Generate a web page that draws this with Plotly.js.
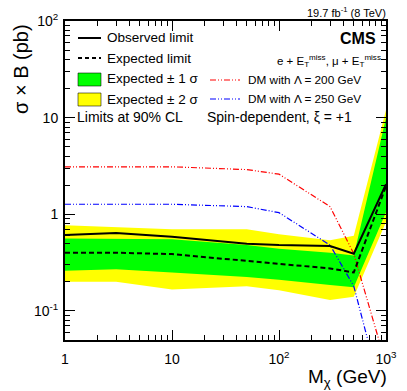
<!DOCTYPE html>
<html>
<head>
<meta charset="utf-8">
<script src="https://cdn.plot.ly/plotly-3.0.1.min.js"></script>
<style>
html,body{margin:0;padding:0;background:#fff;}
#chart{width:407px;height:391px;}
</style>
</head>
<body>
<div id="chart"></div>
<script>
// ---- data ----
const mass        = [1, 3, 10, 50, 100, 300, 500, 1000];
const observed    = [0.61, 0.64, 0.585, 0.495, 0.48, 0.47, 0.39, 2.05];
const expected    = [0.40, 0.40, 0.387, 0.33, 0.31, 0.275, 0.25, 1.95];
const sigma1Up    = [0.56, 0.56, 0.55, 0.48, 0.44, 0.40, 0.375, 9.9];
const sigma1Down  = [0.26, 0.27, 0.25, 0.225, 0.21, 0.185, 0.176, 1.05];
const sigma2Up    = [0.77, 0.73, 0.70, 0.70, 0.62, 0.54, 0.60, 12];
const sigma2Down  = [0.20, 0.20, 0.167, 0.18, 0.164, 0.13, 0.14, 0.83];
const dm200       = [3.1, 3.1, 3.1, 2.9, 2.6, 1.2, 0.39, 0.028];
const dm250       = [1.27, 1.27, 1.27, 1.2, 1.04, 0.48, 0.18, 0.0095];
const xTickVals   = [1, 10, 100, 1000];
const xTickText   = ["1", "10", "10<sup>2</sup>", "10<sup>3</sup>"];
const yTickVals   = [0.1, 1, 10, 100];
const yTickText   = ["10<sup>-1</sup>", "1", "10", "10<sup>2</sup>"];
const minorDigits = [2, 3, 4, 5, 6, 7, 8, 9];
const xDecades    = [1, 10, 100];
const yDecades    = [0.01, 0.1, 1, 10];

// ---- helpers ----
const band = (up, down) => ({
  x: mass.concat(mass.slice().reverse()),
  y: up.concat(down.slice().reverse())
});
const minorVals = decs => decs.flatMap(d => minorDigits.map(m => m * d));

const FONT = "Liberation Sans, Arial, Helvetica, sans-serif";
const W = 407, H = 391, L = 65, R = 21, T = 21, B = 51;
const PW = W - L - R, PH = H - T - B;
const px = x => (x - L) / PW;
const py = y => (H - B - y) / PH;

const b2 = band(sigma2Up, sigma2Down);
const b1 = band(sigma1Up, sigma1Down);

const traces = [
  {x: b2.x, y: b2.y, type: 'scatter', mode: 'lines', fill: 'toself',
   fillcolor: '#ffff00', line: {width: 0, color: '#ffff00'}, hoverinfo: 'skip'},
  {x: b1.x, y: b1.y, type: 'scatter', mode: 'lines', fill: 'toself',
   fillcolor: '#00ff00', line: {width: 0, color: '#00ff00'}, hoverinfo: 'skip'},
  {x: mass, y: dm200, type: 'scatter', mode: 'lines',
   line: {color: '#ff0000', width: 1.2, dash: '6px,2px,1px,2px,1px,2px'}},
  {x: mass, y: dm250, type: 'scatter', mode: 'lines',
   line: {color: '#0000ff', width: 1.2, dash: '6px,2px,1px,2px,1px,2px'}},
  {x: mass, y: expected, type: 'scatter', mode: 'lines',
   line: {color: '#000000', width: 2, dash: '5px,3px'}},
  {x: mass, y: observed, type: 'scatter', mode: 'lines',
   line: {color: '#000000', width: 2}}
];

const shapes = [
  {type: 'line', xref: 'paper', yref: 'paper', x0: px(78), x1: px(101), y0: py(38), y1: py(38),
   line: {color: '#000', width: 2}},
  {type: 'line', xref: 'paper', yref: 'paper', x0: px(78), x1: px(101), y0: py(58), y1: py(58),
   line: {color: '#000', width: 2, dash: '4px,3px'}},
  {type: 'rect', xref: 'paper', yref: 'paper', x0: px(78), x1: px(101), y0: py(86), y1: py(73),
   fillcolor: '#00ff00', line: {color: 'rgba(0,0,0,0.55)', width: 1}},
  {type: 'rect', xref: 'paper', yref: 'paper', x0: px(78), x1: px(101), y0: py(106), y1: py(93),
   fillcolor: '#ffff00', line: {color: 'rgba(0,0,0,0.55)', width: 1}},
  {type: 'line', xref: 'paper', yref: 'paper', x0: px(210), x1: px(240), y0: py(80), y1: py(80),
   line: {color: '#ff0000', width: 1.2, dash: '6px,2px,1px,2px,1px,2px'}},
  {type: 'line', xref: 'paper', yref: 'paper', x0: px(210), x1: px(240), y0: py(99), y1: py(99),
   line: {color: '#0000ff', width: 1.2, dash: '6px,2px,1px,2px,1px,2px'}}
];

const ann = (text, x, y, xanchor, size, extra) => Object.assign({
  text: text, xref: 'paper', yref: 'paper', x: px(x), y: py(y),
  xanchor: xanchor, yanchor: 'middle', showarrow: false,
  font: {family: FONT, size: size, color: '#000'}, borderpad: 0
}, extra || {});

const annotations = [
  ann('Observed limit', 106, 38, 'left', 13.5),
  ann('Expected limit', 106, 58, 'left', 13.5),
  ann('Expected \u00b1 1 \u03c3', 106, 79, 'left', 13.5),
  ann('Expected \u00b1 2 \u03c3', 106, 99, 'left', 13.5),
  ann('Limits at 90% CL', 76, 117, 'left', 14),
  ann('DM with \u039b = 200 GeV', 247, 80, 'left', 11.8),
  ann('DM with \u039b = 250 GeV', 247, 99, 'left', 11.8),
  ann('Spin-dependent, \u03be = +1', 206, 117, 'left', 14),
  ann('<b>CMS</b>', 377, 39, 'right', 16),
  ann('e + E<sub>T</sub><sup>miss</sup>, \u03bc + E<sub>T</sub><sup>miss</sup>', 382, 61, 'right', 11.5),
  ann('19.7 fb<sup>-1</sup> (8 TeV)', 387, 12, 'right', 11),
  ann('\u03c3 \u00d7 B (pb)', 21, 69, 'center', 20, {textangle: -90}),
  ann('M<sub>\u03c7</sub> (GeV)', 388, 391, 'right', 19, {yanchor: 'bottom'})
];

const axisCommon = {
  type: 'log', showgrid: false, zeroline: false,
  showline: true, linecolor: '#000', linewidth: 2, mirror: 'allticks',
  ticks: 'inside', ticklen: 10, tickwidth: 1, tickcolor: '#000',
  tickfont: {family: FONT, size: 14, color: '#000'},
  tickmode: 'array'
};

const layout = {
  width: W, height: H,
  margin: {l: L, r: R, t: T, b: B, pad: 0},
  paper_bgcolor: '#fff', plot_bgcolor: '#fff',
  showlegend: false,
  xaxis: Object.assign({}, axisCommon, {
    range: [0, 3], tickvals: xTickVals, ticktext: xTickText, ticklabelstandoff: 5,
    minor: {tickmode: 'array', tickvals: minorVals(xDecades), ticks: 'inside', ticklen: 5, tickwidth: 1, tickcolor: '#000'}
  }),
  yaxis: Object.assign({}, axisCommon, {
    range: [Math.log10(0.05), 2], tickvals: yTickVals, ticktext: yTickText, ticklabelstandoff: 2,
    minor: {tickmode: 'array', tickvals: minorVals(yDecades), ticks: 'inside', ticklen: 5, tickwidth: 1, tickcolor: '#000'}
  }),
  shapes: shapes,
  annotations: annotations
};

Plotly.newPlot('chart', traces, layout, {staticPlot: true, displayModeBar: false});
</script>
</body>
</html>
